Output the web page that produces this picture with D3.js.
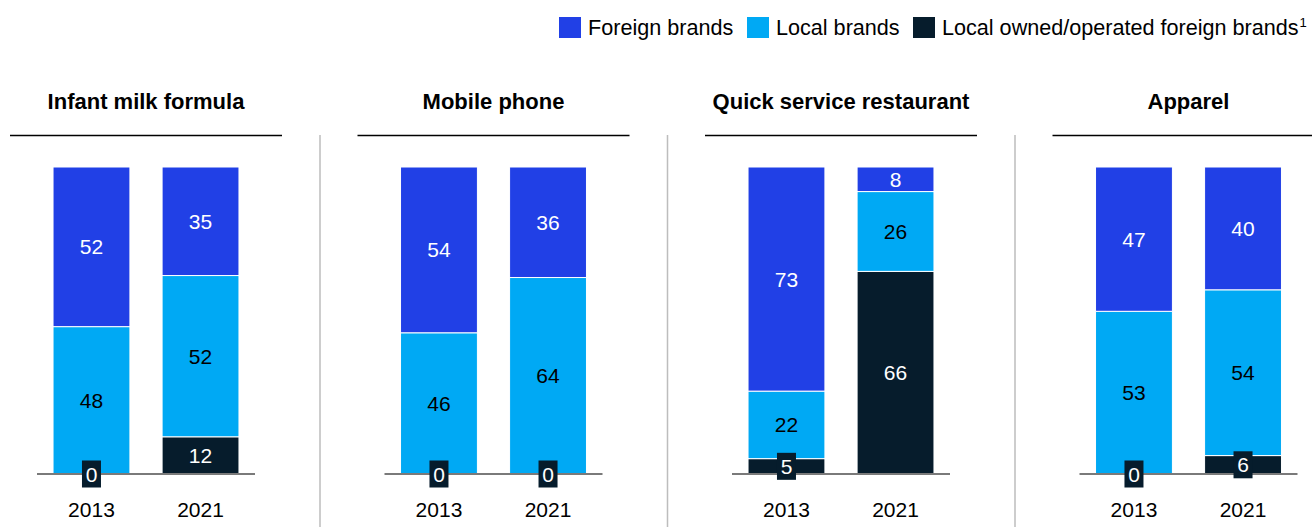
<!DOCTYPE html>
<html>
<head>
<meta charset="utf-8">
<script src="https://cdn.jsdelivr.net/npm/d3@7"></script>
<style>
  html, body { margin: 0; padding: 0; background: #fff; }
  svg { display: block; font-family: "Liberation Sans", Arial, sans-serif; }
</style>
</head>
<body>
<svg id="chart" width="1312" height="527"></svg>
<script>
// Market share by brand origin, 2013 vs 2021 (%)
const categories = ["Infant milk formula", "Mobile phone", "Quick service restaurant", "Apparel"];
const years = ["2013", "2021"];
const seriesNames = ["Foreign brands", "Local brands", "Local owned/operated foreign brands"];
// values per category, [2013, 2021]
const foreignBrands = [[52, 35], [54, 36], [73, 8], [47, 40]];
const localBrands = [[48, 52], [46, 64], [22, 26], [53, 54]];
const localOwnedForeign = [[0, 12], [0, 0], [5, 66], [0, 6]];

const colors = ["#2140E6", "#00A9F4", "#061C2C"];
const labelColors = ["#fff", "#000", "#fff"];

const svg = d3.select("#chart");

// Legend
const legendItems = [
  { x: 559, i: 0 },
  { x: 747, i: 1 },
  { x: 913, i: 2 }
];
const legend = svg.append("g");
legendItems.forEach(d => {
  legend.append("rect")
    .attr("x", d.x).attr("y", 17).attr("width", 22).attr("height", 21)
    .attr("fill", colors[d.i]);
  const t = legend.append("text")
    .attr("x", d.x + 29).attr("y", 35)
    .attr("font-size", 21.6).attr("fill", "#000")
    .text(seriesNames[d.i]);
  if (d.i === 2) {
    t.append("tspan").attr("font-size", 13).attr("dy", -8).attr("dx", 1).text("1");
  }
});

// Panels
const panelStep = 347.5;
const baseX = 37, baseW = 218;
const yTop = 167, yBase = 474;

const x = d3.scaleBand().domain(years).range([0, baseW]).paddingInner(0.295).paddingOuter(0.147);
const y = d3.scaleLinear().domain([0, 1]).range([yBase, yTop]);

categories.forEach((cat, ci) => {
  const g = svg.append("g").attr("transform", `translate(${baseX + ci * panelStep},0)`);

  // divider to the left of every panel but the first
  if (ci > 0) {
    g.append("line")
      .attr("x1", -64.5).attr("x2", -64.5).attr("y1", 135).attr("y2", 527)
      .attr("stroke", "#bdbdbd").attr("stroke-width", 1.5);
  }

  g.append("text")
    .attr("x", 109).attr("y", 109)
    .attr("text-anchor", "middle").attr("font-size", 22).attr("font-weight", "bold")
    .attr("fill", "#000").text(cat);

  g.append("line")
    .attr("x1", -27).attr("x2", 245).attr("y1", 135.5).attr("y2", 135.5)
    .attr("stroke", "#000").attr("stroke-width", 1.5);

  const rows = years.map((yr, yi) => ({
    year: yr,
    0: foreignBrands[ci][yi],
    1: localBrands[ci][yi],
    2: localOwnedForeign[ci][yi]
  }));
  // stack bottom-up: dark, local, foreign; each bar scaled to its own total
  const stack = d3.stack().keys([2, 1, 0]).offset(d3.stackOffsetExpand);
  const layers = stack(rows);

  layers.forEach(layer => {
    const k = layer.key;
    layer.forEach((seg, si) => {
      const yr = rows[si].year;
      const y0 = y(seg[0]), y1 = y(seg[1]);
      if (y0 - y1 > 0.01) {
        g.append("rect")
          .attr("x", x(yr)).attr("width", x.bandwidth())
          .attr("y", y1).attr("height", y0 - y1)
          .attr("fill", colors[k])
          .attr("stroke", "#fff").attr("stroke-width", 1);
      }
    });
  });

  // baseline
  g.append("line")
    .attr("x1", 0).attr("x2", baseW).attr("y1", yBase).attr("y2", yBase)
    .attr("stroke", "#7a7a7a").attr("stroke-width", 2);

  // value labels
  layers.forEach(layer => {
    const k = layer.key;
    layer.forEach((seg, si) => {
      const yr = rows[si].year;
      const v = rows[si][k];
      const y0 = y(seg[0]), y1 = y(seg[1]);
      const cy = (y0 + y1) / 2;
      const cx = x(yr) + x.bandwidth() / 2;
      const small = (y0 - y1) < 22;
      if (k !== 2 && v === 0) return;
      if (small) {
        const w = String(v).length * 11 + 8;
        g.append("rect")
          .attr("x", cx - w / 2).attr("y", cy - 13.5).attr("width", w).attr("height", 27)
          .attr("fill", colors[2]);
      }
      g.append("text")
        .attr("x", cx).attr("y", cy + 7.5)
        .attr("text-anchor", "middle").attr("font-size", 21)
        .attr("fill", small ? "#fff" : labelColors[k])
        .text(v);
    });
  });

  // year labels
  years.forEach(yr => {
    g.append("text")
      .attr("x", x(yr) + x.bandwidth() / 2).attr("y", 517)
      .attr("text-anchor", "middle").attr("font-size", 21).attr("fill", "#000")
      .text(yr);
  });
});
</script>
</body>
</html>
